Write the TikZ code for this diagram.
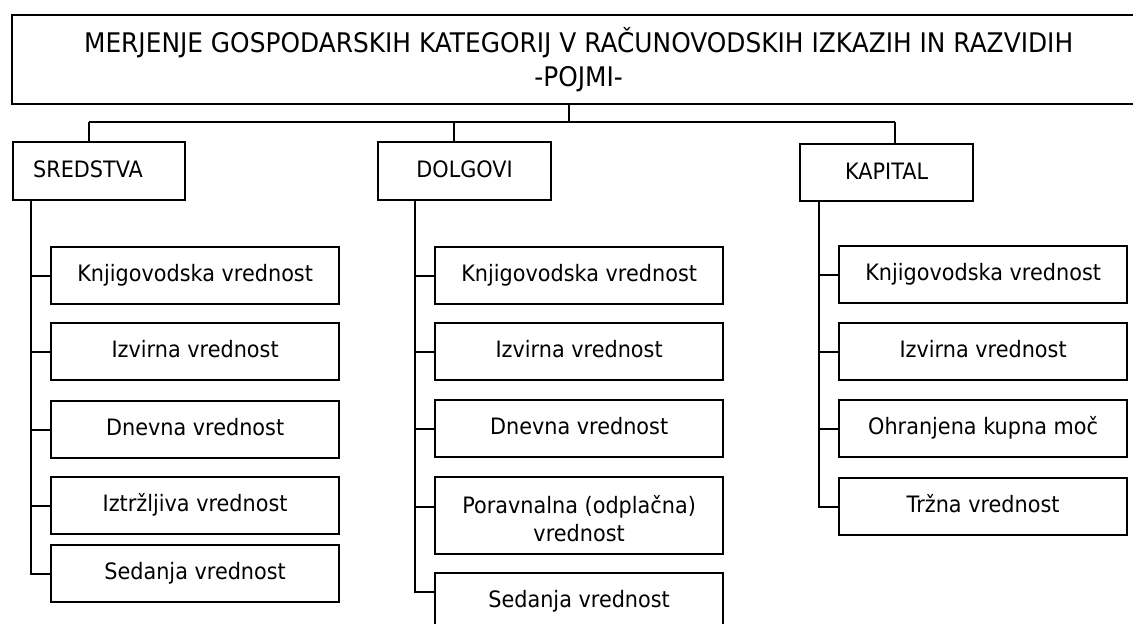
\documentclass[tikz,border=0pt]{standalone}
\usepackage{fontspec}
\setmainfont{DejaVu Sans}[FakeStretch=0.92]
\tikzset{
  bx/.style={draw, line width=2.2pt, inner ysep=0pt, font=\fontsize{22.6}{28}\selectfont},
  leaf/.style={bx, anchor=north west, minimum width=288pt, inner xsep=0pt, align=center, text height=34.5pt, text depth=22.5pt},
  hd/.style={bx, anchor=north west, minimum width=173pt, inner xsep=0pt, align=center, text height=35pt, text depth=23pt},
  cn/.style={line width=2.2pt},
}
\begin{document}
\begin{tikzpicture}[x=1pt,y=-1pt]
\fill[white] (0,0) rectangle (1133,624);
\useasboundingbox (0,0) rectangle (1133,624);
% title
\node[bx, draw=none, anchor=north west, minimum width=1121pt, inner xsep=0pt, align=center,
  text height=70pt, text depth=17pt, font=\fontsize{27}{34}\selectfont] (title) at (12,15)
  {\hspace*{10pt}MERJENJE GOSPODARSKIH KATEGORIJ V RAČUNOVODSKIH IZKAZIH IN RAZVIDIH\\\hspace*{10pt}-POJMI-};
\draw[cn] (title.north east) -- (title.north west) -- (title.south west) -- (title.south east);
% headers
\node[hd, text width=132pt, inner xsep=20pt, align=left, minimum width=172pt] (sred) at (12,141) {SREDSTVA};
\node[hd] (dolg) at (377,141) {DOLGOVI};
\node[hd, text depth=22pt] (kap) at (799,143) {KAPITAL};
% sredstva leaves
\node[leaf] (s1) at (50,246) {Knjigovodska vrednost};
\node[leaf] (s2) at (50,322) {Izvirna vrednost};
\node[leaf] (s3) at (50,400) {Dnevna vrednost};
\node[leaf] (s4) at (50,476) {Iztržljiva vrednost};
\node[leaf] (s5) at (50,544) {Sedanja vrednost};
% dolgovi leaves
\node[leaf] (d1) at (434,246) {Knjigovodska vrednost};
\node[leaf] (d2) at (434,322) {Izvirna vrednost};
\node[leaf] (d3) at (434,399) {Dnevna vrednost};
\node[leaf, text height=64pt, text depth=13pt] (d4) at (434,476) {Poravnalna (odplačna)\\vrednost};
\node[leaf] (d5) at (434,572) {Sedanja vrednost};
% kapital leaves
\node[leaf] (k1) at (838,245) {Knjigovodska vrednost};
\node[leaf] (k2) at (838,322) {Izvirna vrednost};
\node[leaf] (k3) at (838,399) {Ohranjena kupna moč};
\node[leaf] (k4) at (838,477) {Tržna vrednost};
% top connectors
\coordinate (jc) at (569,122);
\coordinate (j1) at (89,122);
\coordinate (j2) at (454,122);
\coordinate (j3) at (895,122);
\draw[cn] (title.south -| jc) -- (jc);
\draw[cn] (j1) -- (j3);
\draw[cn] (j1) -- (j1 |- sred.north);
\draw[cn] (j2) -- (j2 |- dolg.north);
\draw[cn] (j3) -- (j3 |- kap.north);
% trunks
\coordinate (sv) at (31,0);
\coordinate (dv) at (415,0);
\coordinate (kv) at (819,0);
\draw[cn] (sred.south -| sv) |- (s5.west);
\foreach \n in {s1,s2,s3,s4} \draw[cn] (sv |- \n.west) -- (\n.west);
\draw[cn] (dolg.south -| dv) |- ([yshift=9.5pt]d5.west);
\foreach \n in {d1,d2,d3} \draw[cn] (dv |- \n.west) -- (\n.west);
\draw[cn] ([yshift=8.5pt]d4.west) -- ++(-20.1,0);
\draw[cn] (kap.south -| kv) |- (k4.west);
\foreach \n in {k1,k2,k3} \draw[cn] (kv |- \n.west) -- (\n.west);
\end{tikzpicture}
\end{document}
